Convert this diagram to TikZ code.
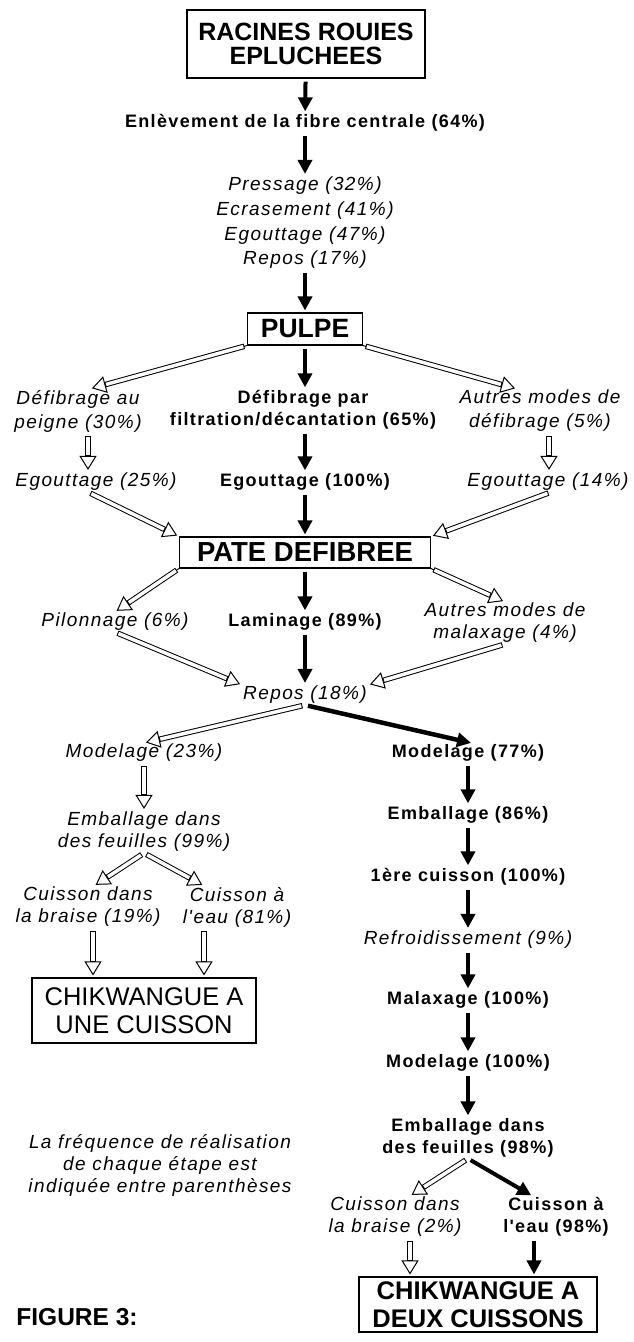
\documentclass[tikz,border=0pt]{standalone}
\usepackage{fontspec}
\setmainfont{Liberation Sans}
\newfontfamily\stepfont[LetterSpace=7.5]{Liberation Sans}
\usepackage{tikz}
\usetikzlibrary{arrows.meta, positioning, calc}

\tikzset{
  titre/.style={draw, line width=1.1pt, align=center, inner sep=0pt,
    font=\bfseries\fontsize{25}{24}\selectfont},
  bstep/.style={align=center, inner sep=1pt,
    font=\stepfont\bfseries\fontsize{18}{22}\selectfont},
  istep/.style={align=center, inner sep=1pt,
    font=\stepfont\itshape\fontsize{19}{22}\selectfont},
}

\begin{document}
\begin{tikzpicture}[x=1pt, y=-1pt,
    mainflow/.style={line width=4pt, -{Triangle[width=14pt, length=14pt]},
      shorten <=3pt, shorten >=2pt},
    sideflow/.style={draw, line width=1pt, -{Triangle[open, width=17pt, length=14pt]},
      shorten <=3pt, shorten >=2pt,
      postaction={draw, -, line cap=rect, shorten <=5.5pt, shorten >=18.5pt,
        double=white, double distance=3.5pt}}]
    \useasboundingbox (0,0) rectangle (633,1342);

    % colonne centrale
    \node[titre, minimum width=238pt, minimum height=68pt] (racines) at (306,44) {RACINES ROUIES\\EPLUCHEES};
    \node[bstep] (fibre) at (305,123) {Enlèvement de la fibre centrale (64\%)};
    \node[istep, font=\stepfont\itshape\fontsize{19}{24.7}\selectfont] (pressage) at (305,223)
      {Pressage (32\%)\\Ecrasement (41\%)\\Egouttage (47\%)\\Repos (17\%)};
    \node[titre, font=\bfseries\fontsize{26.5}{27}\selectfont, minimum width=115pt, minimum height=32pt]
      (pulpe) at (305,329) {PULPE};

    \node[istep, font=\stepfont\itshape\fontsize{19}{24}\selectfont] (peigne) at (78,411) {Défibrage au\\peigne (30\%)};
    \node[bstep] (filtration) at (303,410) {Défibrage par\\filtration/décantation (65\%)};
    \node[istep, font=\stepfont\itshape\fontsize{19}{24}\selectfont] (autresdef) at (540,411) {Autres modes de\\défibrage (5\%)};

    \node[istep] (egoutg) at (96,482) {Egouttage (25\%)};
    \node[bstep] (egoutm) at (305,482) {Egouttage (100\%)};
    \node[istep] (egoutd) at (548,482) {Egouttage (14\%)};

    \node[titre, font=\bfseries\fontsize{27.5}{28}\selectfont, minimum width=251pt, minimum height=31pt]
      (pate) at (305,552.5) {PATE DEFIBREE};

    \node[istep] (pilon) at (115,622) {Pilonnage (6\%)};
    \node[bstep] (lamin) at (305,622) {Laminage (89\%)};
    \node[istep] (autresmal) at (505,623) {Autres modes de\\malaxage (4\%)};
    \node[istep] (repos) at (305,695) {Repos (18\%)};

    % branche une cuisson
    \node[istep] (modelg) at (144,753) {Modelage (23\%)};
    \node[istep] (emballg) at (144,832) {Emballage dans\\des feuilles (99\%)};
    \node[istep] (braiseg) at (88,907) {Cuisson dans\\la braise (19\%)};
    \node[istep] (eaug) at (237,907) {Cuisson à\\l'eau (81\%)};
    \node[titre, font=\fontsize{25.5}{28}\selectfont, minimum width=224pt, minimum height=65pt]
      (une) at (144,1010.5) {CHIKWANGUE A\\UNE CUISSON};

    % branche deux cuissons
    \node[bstep] (modeld) at (468,753) {Modelage (77\%)};
    \node[bstep] (emballd) at (468,815) {Emballage (86\%)};
    \node[bstep] (cuisson) at (468,877) {1ère cuisson (100\%)};
    \node[istep] (refroid) at (468,940) {Refroidissement (9\%)};
    \node[bstep] (malax) at (468,1000) {Malaxage (100\%)};
    \node[bstep] (modelc) at (468,1063) {Modelage (100\%)};
    \node[bstep] (emballc) at (468,1138) {Emballage dans\\des feuilles (98\%)};
    \node[istep] (braised) at (395,1217) {Cuisson dans\\la braise (2\%)};
    \node[bstep] (eaud) at (556,1217) {Cuisson à\\l'eau (98\%)};
    \node[titre, font=\bfseries\fontsize{25.5}{28}\selectfont, minimum width=238pt, minimum height=55pt]
      (deux) at (478,1304.5) {CHIKWANGUE A\\DEUX CUISSONS};

    \node[istep] (note) at (160,1165) {La fréquence de réalisation\\de chaque étape est\\indiquée entre parenthèses};
    \node[font=\bfseries\fontsize{24.5}{25}\selectfont, inner sep=0pt] (figure) at (77,1317) {FIGURE 3:};

    \draw[mainflow] (racines) -- (fibre);
    \draw[mainflow] (fibre) -- (pressage);
    \draw[mainflow] (pressage) -- (pulpe);
    \draw[sideflow, shorten <=0pt] (pulpe.south west) -- ([xshift=12pt]peigne.north);
    \draw[mainflow] (pulpe) -- (pulpe |- filtration.north);
    \draw[sideflow, shorten <=0pt] (pulpe.south east) -- ([xshift=-23pt]autresdef.north);
    \draw[sideflow] ([xshift=10pt]peigne.south) -- ([xshift=10pt]peigne.south |- egoutg.north);
    \draw[mainflow] (egoutm |- filtration.south) -- (egoutm);
    \draw[sideflow] ([xshift=9pt]autresdef.south) -- ([xshift=9pt]autresdef.south |- egoutd.north);
    \draw[sideflow] ([xshift=-8pt]egoutg.south) -- (pate.north west);
    \draw[mainflow] (egoutm) -- (pate);
    \draw[sideflow] ([xshift=3pt]egoutd.south) -- (pate.north east);
    \draw[sideflow, shorten <=0pt] (pate.south west) -- (pilon.north);
    \draw[mainflow] (pate) -- (lamin);
    \draw[sideflow, shorten <=0pt] (pate.south east) -- (autresmal.north);
    \draw[sideflow] (pilon.south) -- (repos.north west);
    \draw[mainflow] (lamin) -- (repos);
    \draw[sideflow] (autresmal.south) -- (repos.north east);
    \draw[sideflow] (repos.south) -- (modelg.north);
    \draw[mainflow, line width=4.5pt] (repos.south) -- ([xshift=5pt]modeld.north);

    \draw[sideflow] (modelg) -- (emballg);
    \draw[sideflow] (emballg.south) -- ([xshift=6pt]braiseg.north);
    \draw[sideflow] (emballg.south) -- ([xshift=-33pt]eaug.north);
    \draw[sideflow] ([xshift=5pt]braiseg.south) -- ([xshift=5pt]braiseg.south |- une.north);
    \draw[sideflow] ([xshift=-33pt]eaug.south) -- ([xshift=-33pt]eaug.south |- une.north);

    \draw[mainflow] (modeld) -- (emballd);
    \draw[mainflow] (emballd) -- (cuisson);
    \draw[mainflow] (cuisson) -- (refroid);
    \draw[mainflow] (refroid) -- (malax);
    \draw[mainflow] (malax) -- (modelc);
    \draw[mainflow] (modelc) -- (emballc);
    \draw[sideflow] (emballc.south) -- ([xshift=15pt]braised.north);
    \draw[mainflow] (emballc.south) -- ([xshift=-23pt]eaud.north);
    \draw[sideflow] ([xshift=15pt]braised.south) -- ([xshift=15pt]braised.south |- deux.north);
    \draw[mainflow] ([xshift=-22pt]eaud.south) -- ([xshift=-22pt]eaud.south |- deux.north);
\end{tikzpicture}
\end{document}
